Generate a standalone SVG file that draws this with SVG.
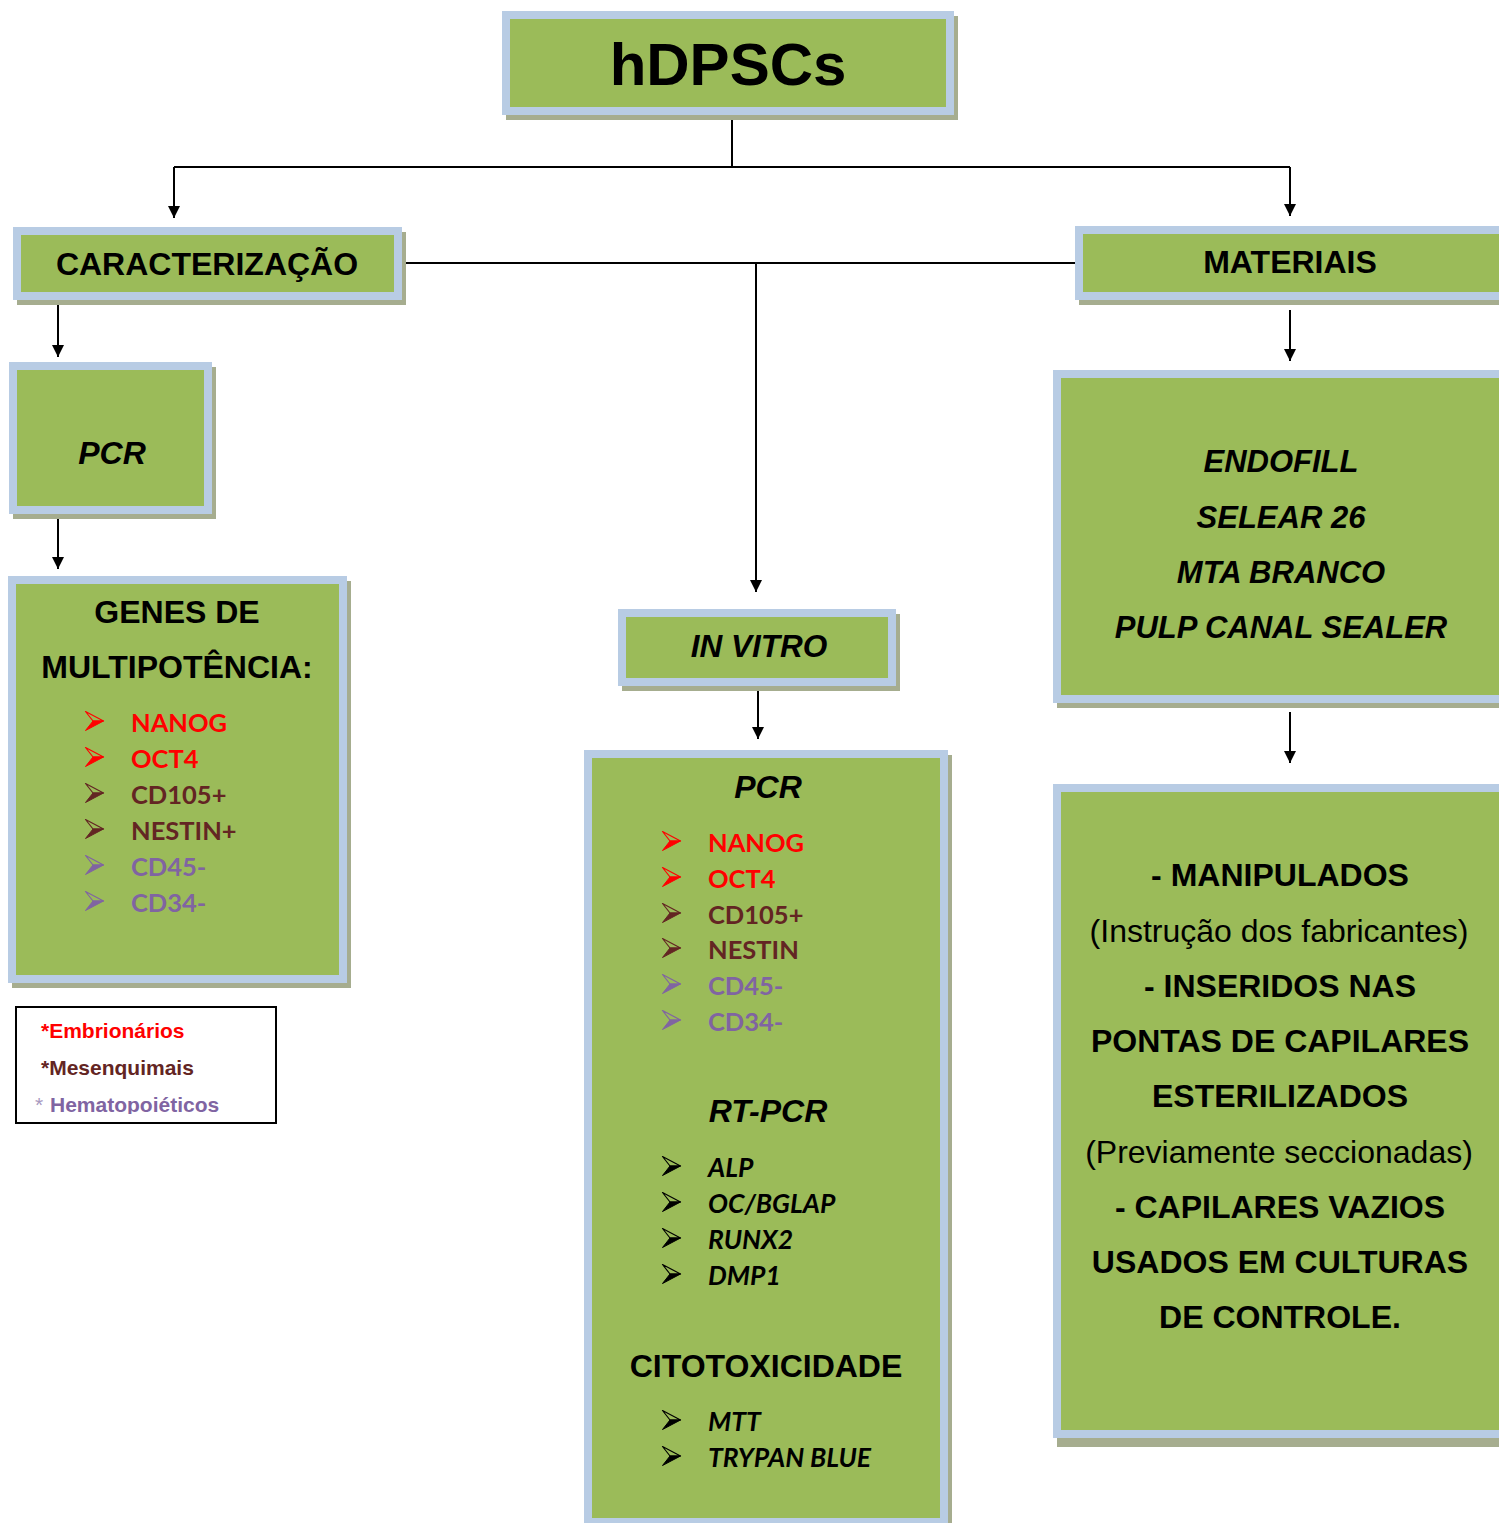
<svg xmlns="http://www.w3.org/2000/svg" width="1499" height="1523" viewBox="0 0 1499 1523">
<style>
.box{fill:#9bbb59;stroke:#b8cce4;stroke-width:8}
.sh{fill:#a6ad8f;stroke:#a6ad8f;stroke-width:8}
.h{font-family:"Liberation Sans",Arial,sans-serif;font-weight:bold;fill:#000}
.hi{font-family:"Liberation Sans",Arial,sans-serif;font-weight:bold;font-style:italic;fill:#000}
.reg{font-family:"Liberation Sans",Arial,sans-serif;fill:#000}
.li{font-family:Lato,"Open Sans",sans-serif;font-weight:bold;font-size:25.5px}
.lii{font-family:Lato,"Open Sans",sans-serif;font-weight:bold;font-style:italic;font-size:26.5px;fill:#000}
.red{fill:#ff0000;color:#ff0000}
.brn{fill:#632523;color:#632523}
.pur{fill:#8064a2;color:#8064a2}
.blk{fill:#000;color:#000}
.conn line{stroke:#000;stroke-width:2}
</style>
<defs>
<marker id="ah" markerUnits="userSpaceOnUse" markerWidth="12" markerHeight="12" refX="12" refY="6" orient="auto">
<path d="M0,0 L12,6 L0,12 z" fill="#000"/>
</marker>
<symbol id="bul" viewBox="0 0 19 20" overflow="visible">
<path d="M0.5,0.5 L18.5,10 L8,10 z" fill="none" stroke="currentColor" stroke-width="1.2" stroke-linejoin="round"/>
<path d="M8,10 L18.5,10 L0.5,19.5 z" fill="currentColor" stroke="currentColor" stroke-width="1" stroke-linejoin="round"/>
</symbol>
<clipPath id="lgclip"><rect x="17" y="1008" width="258" height="106"/></clipPath>
</defs>
<rect width="1499" height="1523" fill="#fff"/>

<g id="connectors" class="conn">
<line x1="732" y1="116" x2="732" y2="167"/>
<line x1="174" y1="167" x2="1290" y2="167"/>
<line x1="174" y1="167" x2="174" y2="218" marker-end="url(#ah)"/>
<line x1="1290" y1="167" x2="1290" y2="216" marker-end="url(#ah)"/>
<line x1="406" y1="263" x2="1076" y2="263"/>
<line x1="756" y1="263" x2="756" y2="592" marker-end="url(#ah)"/>
<line x1="58" y1="305" x2="58" y2="357" marker-end="url(#ah)"/>
<line x1="58" y1="517" x2="58" y2="569" marker-end="url(#ah)"/>
<line x1="758" y1="688" x2="758" y2="739" marker-end="url(#ah)"/>
<line x1="1290" y1="310" x2="1290" y2="361" marker-end="url(#ah)"/>
<line x1="1290" y1="712" x2="1290" y2="763" marker-end="url(#ah)"/>
</g>

<g id="hdpscs">
<rect class="sh" x="510" y="20" width="444" height="96"/>
<rect class="box" x="506" y="15" width="444" height="96"/>
<text class="h" x="728" y="85" font-size="60" text-anchor="middle">hDPSCs</text>
</g>

<g id="caracterizacao">
<rect class="sh" x="21" y="236" width="381" height="65"/>
<rect class="box" x="17" y="231" width="381" height="65"/>
<text class="h" x="207" y="275" font-size="32" text-anchor="middle">CARACTERIZAÇÃO</text>
</g>

<g id="materiais">
<rect class="sh" x="1083" y="235" width="430" height="66"/>
<rect class="box" x="1079" y="230" width="430" height="66"/>
<text class="h" x="1290" y="273" font-size="32" text-anchor="middle">MATERIAIS</text>
</g>

<g id="pcr-left">
<rect class="sh" x="17" y="371" width="195" height="144"/>
<rect class="box" x="13" y="366" width="195" height="144"/>
<text class="hi" x="112" y="464" font-size="32" text-anchor="middle">PCR</text>
</g>

<g id="genes">
<rect class="sh" x="16" y="585" width="331" height="399"/>
<rect class="box" x="12" y="580" width="331" height="399"/>
<text class="h" x="177" y="623" font-size="32" text-anchor="middle">GENES DE</text>
<text class="h" x="177" y="678" font-size="32" text-anchor="middle">MULTIPOTÊNCIA:</text>
<use href="#bul" class="red" x="85" y="711" width="19" height="20"/>
<text class="li red" x="131" y="732">NANOG</text>
<use href="#bul" class="red" x="85" y="747" width="19" height="20"/>
<text class="li red" x="131" y="768">OCT4</text>
<use href="#bul" class="brn" x="85" y="783" width="19" height="20"/>
<text class="li brn" x="131" y="804">CD105+</text>
<use href="#bul" class="brn" x="85" y="819" width="19" height="20"/>
<text class="li brn" x="131" y="840">NESTIN+</text>
<use href="#bul" class="pur" x="85" y="855" width="19" height="20"/>
<text class="li pur" x="131" y="876">CD45-</text>
<use href="#bul" class="pur" x="85" y="891" width="19" height="20"/>
<text class="li pur" x="131" y="912">CD34-</text>
</g>

<g id="legenda">
<rect x="16" y="1007" width="260" height="116" fill="#fff" stroke="#000" stroke-width="2"/>
<g clip-path="url(#lgclip)">
<text class="h" x="41" y="1038" font-size="21" style="fill:#ff0000">*Embrionários</text>
<text class="h" x="41" y="1075" font-size="21" style="fill:#632523">*Mesenquimais</text>
<text class="reg" x="35" y="1112" font-size="21" style="fill:#a899c0">*</text>
<text class="h" x="50" y="1112" font-size="21" style="fill:#8064a2">Hematopoiéticos</text>
</g>
</g>

<g id="in-vitro">
<rect class="sh" x="626" y="618" width="270" height="69"/>
<rect class="box" x="622" y="613" width="270" height="69"/>
<text class="hi" x="759" y="657" font-size="31.5" text-anchor="middle">IN VITRO</text>
</g>

<g id="metodos">
<rect class="sh" x="592" y="759" width="356" height="768"/>
<rect class="box" x="588" y="754" width="356" height="768"/>
<text class="hi" x="768" y="798" font-size="32" text-anchor="middle">PCR</text>
<use href="#bul" class="red" x="662" y="831" width="19" height="20"/>
<text class="li red" x="708" y="852">NANOG</text>
<use href="#bul" class="red" x="662" y="867" width="19" height="20"/>
<text class="li red" x="708" y="888">OCT4</text>
<use href="#bul" class="brn" x="662" y="903" width="19" height="20"/>
<text class="li brn" x="708" y="924">CD105+</text>
<use href="#bul" class="brn" x="662" y="938" width="19" height="20"/>
<text class="li brn" x="708" y="959">NESTIN</text>
<use href="#bul" class="pur" x="662" y="974" width="19" height="20"/>
<text class="li pur" x="708" y="995">CD45-</text>
<use href="#bul" class="pur" x="662" y="1010" width="19" height="20"/>
<text class="li pur" x="708" y="1031">CD34-</text>
<text class="hi" x="768" y="1122" font-size="32" text-anchor="middle">RT-PCR</text>
<use href="#bul" class="blk" x="662" y="1156" width="19" height="20"/>
<text class="lii" x="708" y="1177">ALP</text>
<use href="#bul" class="blk" x="662" y="1192" width="19" height="20"/>
<text class="lii" x="708" y="1213">OC/BGLAP</text>
<use href="#bul" class="blk" x="662" y="1228" width="19" height="20"/>
<text class="lii" x="708" y="1249">RUNX2</text>
<use href="#bul" class="blk" x="662" y="1264" width="19" height="20"/>
<text class="lii" x="708" y="1285">DMP1</text>
<text class="h" x="766" y="1377" font-size="32" text-anchor="middle">CITOTOXICIDADE</text>
<use href="#bul" class="blk" x="662" y="1410" width="19" height="20"/>
<text class="lii" x="708" y="1431">MTT</text>
<use href="#bul" class="blk" x="662" y="1446" width="19" height="20"/>
<text class="lii" x="708" y="1467">TRYPAN BLUE</text>
</g>

<g id="materiais-lista">
<rect class="sh" x="1061" y="379" width="452" height="325"/>
<rect class="box" x="1057" y="374" width="452" height="325"/>
<text class="hi" x="1281" y="472" font-size="31" text-anchor="middle">ENDOFILL</text>
<text class="hi" x="1281" y="528" font-size="31" text-anchor="middle">SELEAR 26</text>
<text class="hi" x="1281" y="583" font-size="31" text-anchor="middle">MTA BRANCO</text>
<text class="hi" x="1281" y="638" font-size="31" text-anchor="middle">PULP CANAL SEALER</text>
</g>

<g id="manipulados">
<rect class="sh" x="1061" y="793" width="452" height="650"/>
<rect class="box" x="1057" y="788" width="452" height="646"/>
<text class="h" x="1280" y="886" font-size="32" text-anchor="middle">- MANIPULADOS</text>
<text class="reg" x="1279" y="942" font-size="32" text-anchor="middle">(Instrução dos fabricantes)</text>
<text class="h" x="1280" y="997" font-size="32" text-anchor="middle">- INSERIDOS NAS</text>
<text class="h" x="1280" y="1052" font-size="32" text-anchor="middle">PONTAS DE CAPILARES</text>
<text class="h" x="1280" y="1107" font-size="32" text-anchor="middle">ESTERILIZADOS</text>
<text class="reg" x="1279" y="1163" font-size="32" text-anchor="middle">(Previamente seccionadas)</text>
<text class="h" x="1280" y="1218" font-size="32" text-anchor="middle">- CAPILARES VAZIOS</text>
<text class="h" x="1280" y="1273" font-size="32" text-anchor="middle">USADOS EM CULTURAS</text>
<text class="h" x="1280" y="1328" font-size="32" text-anchor="middle">DE CONTROLE.</text>
</g>
</svg>
